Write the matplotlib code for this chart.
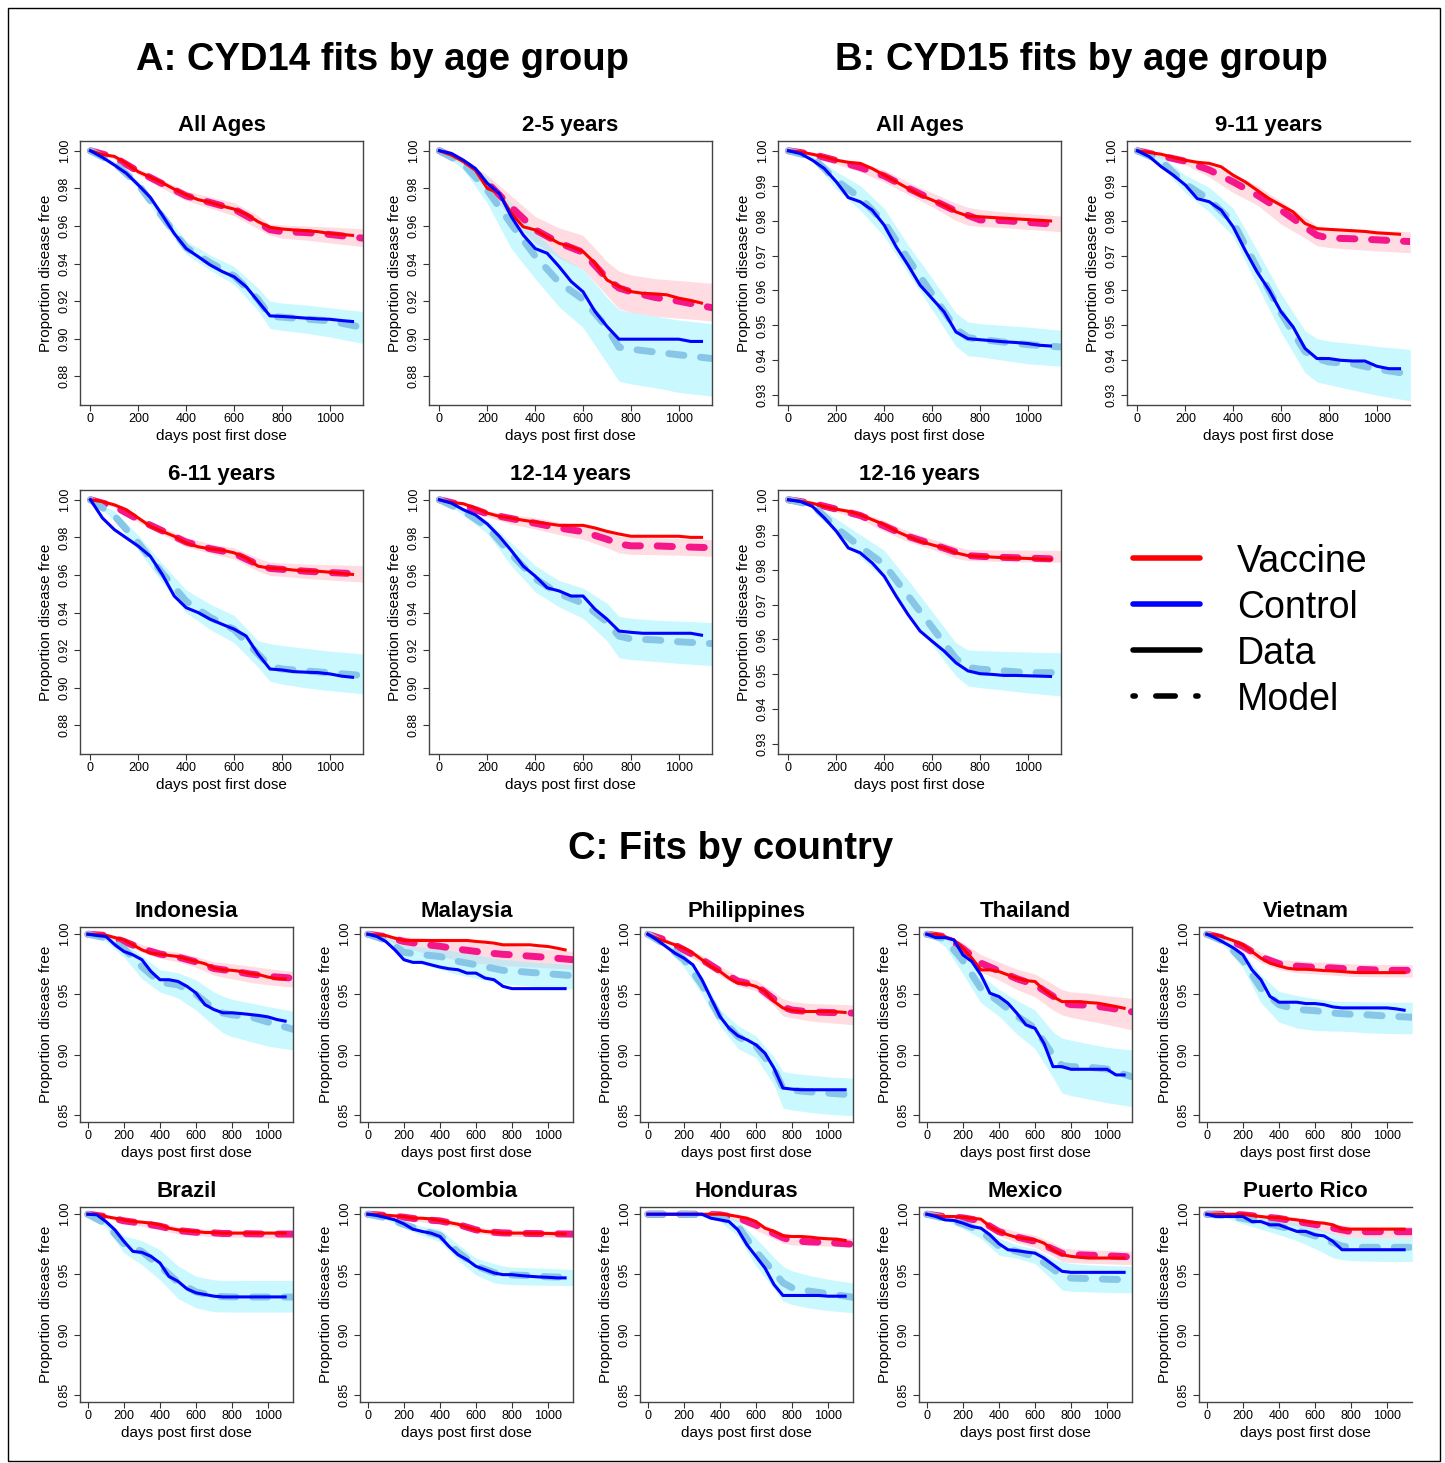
import matplotlib
matplotlib.use('Agg')
import matplotlib.pyplot as plt
from matplotlib.patches import Rectangle

plt.rcParams['font.family'] = ['Liberation Sans', 'DejaVu Sans']

# ---------------------------------------------------------------- data
DATA_DAYS = [0, 50, 100, 150, 200, 250, 300, 350, 400, 450, 500, 550, 600,
             650, 700, 750, 800, 850, 900, 950, 1000, 1050, 1095]
MODEL_DAYS = [0, 100, 200, 300, 400, 500, 600, 700, 750, 800, 900, 1000, 1140]

# Kaplan-Meier data, vaccine arm (at DATA_DAYS)
vaccine_data = {
    'A_all': [1.0, 0.998, 0.997, 0.9933, 0.9888, 0.986, 0.983, 0.9796, 0.9765, 0.974, 0.9726, 0.9706, 0.969, 0.9664, 0.9623, 0.9593, 0.9584, 0.9579, 0.9575, 0.957, 0.956, 0.9555, 0.955],
    'A_2_5': [1.0, 0.9977, 0.9942, 0.9897, 0.98, 0.9773, 0.9667, 0.9596, 0.9579, 0.9543, 0.9508, 0.949, 0.9464, 0.9402, 0.9313, 0.9278, 0.9251, 0.9242, 0.9239, 0.9234, 0.9216, 0.9204, 0.919],
    'A_6_11': [1.0, 0.999, 0.9973, 0.9947, 0.9903, 0.9859, 0.9832, 0.9806, 0.977, 0.975, 0.9739, 0.9732, 0.9718, 0.9691, 0.9647, 0.9636, 0.9633, 0.9626, 0.9622, 0.962, 0.9615, 0.9608, 0.9603],
    'A_12_14': [1.0, 0.9986, 0.9979, 0.9956, 0.9929, 0.9912, 0.9903, 0.9891, 0.9882, 0.9873, 0.9864, 0.9864, 0.9864, 0.985, 0.9832, 0.9818, 0.9806, 0.9806, 0.9806, 0.9806, 0.9806, 0.980, 0.980],
    'B_all': [1.0, 0.9997, 0.999, 0.9983, 0.9973, 0.9967, 0.9964, 0.9949, 0.993, 0.9911, 0.9892, 0.9873, 0.9859, 0.9844, 0.9825, 0.9813, 0.9811, 0.9809, 0.9807, 0.9805, 0.9803, 0.9801, 0.9799],
    'B_9_11': [1.0, 0.9995, 0.999, 0.9981, 0.9973, 0.9967, 0.9964, 0.9954, 0.993, 0.9911, 0.9887, 0.9863, 0.9844, 0.9825, 0.9792, 0.9777, 0.9775, 0.9773, 0.9771, 0.9769, 0.9765, 0.9763, 0.9761],
    'B_12_16': [1.0, 0.9996, 0.999, 0.9981, 0.9973, 0.9967, 0.9957, 0.9943, 0.9929, 0.991, 0.9895, 0.9881, 0.9871, 0.9862, 0.9848, 0.984, 0.9838, 0.9836, 0.9834, 0.9833, 0.9832, 0.983, 0.9829],
    'Indonesia': [1.0, 1.0, 0.9992, 0.9972, 0.9953, 0.9912, 0.987, 0.9843, 0.9835, 0.9824, 0.9815, 0.9793, 0.9774, 0.9755, 0.9719, 0.9705, 0.970, 0.9691, 0.9672, 0.9664, 0.9644, 0.9631, 0.9628],
    'Malaysia': [1.0, 0.9994, 0.9989, 0.9967, 0.9948, 0.9948, 0.9948, 0.9948, 0.9948, 0.9948, 0.9948, 0.9948, 0.994, 0.9934, 0.9926, 0.9912, 0.9912, 0.9912, 0.9912, 0.9904, 0.9898, 0.9884, 0.987],
    'Philippines': [1.0, 0.9967, 0.9939, 0.9912, 0.9884, 0.9843, 0.9788, 0.9732, 0.9691, 0.9635, 0.9594, 0.9588, 0.9566, 0.9525, 0.9442, 0.9387, 0.9367, 0.9358, 0.9358, 0.9358, 0.9358, 0.9355, 0.935],
    'Thailand': [1.0, 1.0, 0.998, 0.9953, 0.9884, 0.980, 0.9704, 0.9704, 0.969, 0.9662, 0.9634, 0.9615, 0.9607, 0.9537, 0.9482, 0.944, 0.944, 0.944, 0.9432, 0.9427, 0.9413, 0.9399, 0.9385],
    'Vietnam': [1.0, 0.9994, 0.9972, 0.9945, 0.9911, 0.9856, 0.9801, 0.976, 0.9737, 0.9717, 0.9709, 0.9709, 0.9704, 0.9698, 0.9695, 0.969, 0.9684, 0.9681, 0.9681, 0.9681, 0.9681, 0.9681, 0.9681],
    'Brazil': [1.0, 1.0, 0.9981, 0.9967, 0.9953, 0.994, 0.9934, 0.9926, 0.9912, 0.9884, 0.987, 0.9862, 0.9857, 0.9848, 0.9848, 0.9843, 0.9843, 0.9843, 0.9843, 0.9843, 0.9843, 0.9843, 0.9843],
    'Colombia': [1.0, 1.0, 0.9992, 0.9986, 0.9981, 0.9967, 0.9967, 0.9961, 0.9948, 0.9931, 0.9917, 0.9892, 0.987, 0.9857, 0.9851, 0.9843, 0.9843, 0.9843, 0.9841, 0.9841, 0.984, 0.9838, 0.9837],
    'Honduras': [1.0, 1.0, 1.0, 1.0, 1.0, 1.0, 1.0, 1.0, 1.0, 0.9994, 0.9981, 0.9967, 0.9939, 0.9884, 0.9857, 0.9821, 0.9815, 0.9815, 0.981, 0.9801, 0.9796, 0.9793, 0.9782],
    'Mexico': [1.0, 0.9989, 0.9981, 0.9981, 0.9975, 0.9967, 0.9959, 0.9898, 0.9857, 0.9829, 0.9807, 0.9796, 0.9788, 0.976, 0.9705, 0.9664, 0.965, 0.9642, 0.9636, 0.9636, 0.9636, 0.9636, 0.9636],
    'Puerto Rico': [1.0, 1.0, 1.0, 1.0, 1.0, 0.9989, 0.9981, 0.9972, 0.9972, 0.9961, 0.9953, 0.9939, 0.9931, 0.9926, 0.9912, 0.9876, 0.9876, 0.9876, 0.9876, 0.9876, 0.9876, 0.9876, 0.9876],
}

# Kaplan-Meier data, control arm
control_data = {
    'A_all': [1.0, 0.9965, 0.9924, 0.988, 0.9818, 0.9752, 0.9658, 0.956, 0.948, 0.9437, 0.9393, 0.9358, 0.933, 0.9278, 0.92, 0.9122, 0.9119, 0.9115, 0.911, 0.9106, 0.9104, 0.9097, 0.9092],
    'A_2_5': [1.0, 0.9986, 0.995, 0.9906, 0.9827, 0.9773, 0.965, 0.9552, 0.948, 0.9455, 0.9384, 0.9305, 0.925, 0.9145, 0.9066, 0.8998, 0.8998, 0.8998, 0.8998, 0.8998, 0.8998, 0.8986, 0.8986],
    'A_6_11': [1.0, 0.9903, 0.9841, 0.9797, 0.9753, 0.970, 0.9603, 0.9488, 0.9426, 0.940, 0.9365, 0.9338, 0.9312, 0.9276, 0.918, 0.910, 0.9095, 0.9086, 0.9083, 0.9081, 0.9074, 0.9062, 0.9056],
    'A_12_14': [1.0, 0.9982, 0.9947, 0.992, 0.9871, 0.9806, 0.973, 0.9647, 0.9594, 0.9532, 0.9515, 0.9488, 0.9488, 0.9418, 0.9365, 0.9302, 0.9295, 0.929, 0.929, 0.929, 0.929, 0.929, 0.928],
    'B_all': [1.0, 0.9992, 0.9973, 0.9949, 0.9911, 0.9866, 0.9854, 0.983, 0.9787, 0.9725, 0.9672, 0.9615, 0.9577, 0.9539, 0.9481, 0.9462, 0.9459, 0.9456, 0.9453, 0.9451, 0.9448, 0.9443, 0.9441],
    'B_9_11': [1.0, 0.9983, 0.9954, 0.993, 0.9902, 0.9863, 0.9854, 0.983, 0.9782, 0.9715, 0.9653, 0.9601, 0.9539, 0.9496, 0.9434, 0.9405, 0.9405, 0.940, 0.9398, 0.9398, 0.9383, 0.9376, 0.9376],
    'B_12_16': [1.0, 0.9995, 0.9981, 0.9948, 0.991, 0.9862, 0.9848, 0.9819, 0.9781, 0.9724, 0.9671, 0.9624, 0.9595, 0.9567, 0.9533, 0.951, 0.9502, 0.950, 0.9497, 0.9497, 0.9496, 0.9495, 0.9494],
    'Indonesia': [1.0, 0.9989, 0.9981, 0.9912, 0.9857, 0.9829, 0.9788, 0.9691, 0.9622, 0.9622, 0.9608, 0.9567, 0.9512, 0.9415, 0.9374, 0.9347, 0.9347, 0.9341, 0.9333, 0.9325, 0.9313, 0.9291, 0.9278],
    'Malaysia': [1.0, 0.9981, 0.9939, 0.987, 0.9788, 0.9766, 0.9766, 0.9746, 0.9727, 0.9713, 0.9705, 0.9677, 0.9677, 0.9636, 0.9622, 0.9567, 0.9548, 0.9548, 0.9548, 0.9548, 0.9548, 0.9548, 0.9548],
    'Philippines': [1.0, 0.9953, 0.9898, 0.9843, 0.9801, 0.9746, 0.9622, 0.9469, 0.9317, 0.922, 0.9156, 0.9123, 0.9081, 0.9012, 0.8888, 0.8722, 0.8713, 0.8708, 0.8708, 0.8708, 0.8708, 0.8708, 0.8708],
    'Thailand': [1.0, 0.9972, 0.9972, 0.9953, 0.9828, 0.9773, 0.9662, 0.951, 0.9482, 0.9427, 0.9343, 0.9247, 0.9219, 0.9094, 0.890, 0.890, 0.8878, 0.8878, 0.8878, 0.8878, 0.8878, 0.8831, 0.8831],
    'Vietnam': [1.0, 0.9967, 0.9926, 0.9884, 0.9829, 0.9705, 0.9622, 0.9484, 0.9435, 0.9435, 0.9435, 0.9424, 0.9424, 0.9415, 0.9396, 0.9388, 0.9388, 0.9388, 0.9388, 0.9388, 0.9388, 0.938, 0.9369],
    'Brazil': [1.0, 0.9995, 0.9939, 0.987, 0.9774, 0.9691, 0.9683, 0.965, 0.9595, 0.9484, 0.9443, 0.938, 0.9347, 0.9333, 0.9319, 0.9313, 0.9313, 0.9313, 0.9313, 0.9313, 0.9313, 0.9313, 0.9313],
    'Colombia': [1.0, 0.9989, 0.9972, 0.9953, 0.992, 0.9876, 0.9857, 0.9843, 0.9815, 0.9733, 0.9664, 0.9622, 0.9567, 0.954, 0.9512, 0.9498, 0.9498, 0.949, 0.9484, 0.9479, 0.9476, 0.9471, 0.9471],
    'Honduras': [1.0, 1.0, 1.0, 1.0, 1.0, 1.0, 1.0, 0.9967, 0.9953, 0.9939, 0.987, 0.9746, 0.965, 0.9553, 0.9416, 0.9325, 0.9325, 0.9325, 0.9325, 0.9325, 0.9319, 0.9319, 0.9319],
    'Mexico': [1.0, 0.9981, 0.9953, 0.9948, 0.9926, 0.9898, 0.9884, 0.9829, 0.9755, 0.9705, 0.9697, 0.9686, 0.9677, 0.9636, 0.9581, 0.9526, 0.9517, 0.9517, 0.9517, 0.9517, 0.9517, 0.9517, 0.9517],
    'Puerto Rico': [1.0, 0.9981, 0.9981, 0.9981, 0.9981, 0.9939, 0.9939, 0.9912, 0.9912, 0.9884, 0.9857, 0.9857, 0.9829, 0.982, 0.9774, 0.9705, 0.9705, 0.9705, 0.9705, 0.9705, 0.9705, 0.9705, 0.9705],
}

# model fits at MODEL_DAYS: vaccine arm (mean, lower, upper)
vaccine_model = {
    'A_all': [1.0, 0.9965, 0.989, 0.9825, 0.976, 0.9725, 0.969, 0.962, 0.958, 0.957, 0.9565, 0.9555, 0.9535],
    'A_2_5': [1.0, 0.994, 0.983, 0.970, 0.958, 0.951, 0.946, 0.932, 0.927, 0.925, 0.922, 0.920, 0.9165],
    'A_6_11': [1.0, 0.9965, 0.9895, 0.9835, 0.9775, 0.974, 0.9715, 0.9655, 0.9635, 0.963, 0.962, 0.9613, 0.9605],
    'A_12_14': [1.0, 0.997, 0.9925, 0.990, 0.9875, 0.985, 0.983, 0.979, 0.9765, 0.9755, 0.9755, 0.975, 0.9745],
    'B_all': [1.0, 0.999, 0.9972, 0.9952, 0.9928, 0.9893, 0.986, 0.9827, 0.9815, 0.9802, 0.980, 0.9795, 0.9788],
    'B_9_11': [1.0, 0.9985, 0.997, 0.9945, 0.9911, 0.9873, 0.983, 0.9782, 0.9758, 0.975, 0.9748, 0.9745, 0.974],
    'B_12_16': [1.0, 0.999, 0.9973, 0.9955, 0.9925, 0.9895, 0.9873, 0.985, 0.984, 0.9838, 0.9835, 0.9833, 0.983],
    'Indonesia': [1.0, 0.999, 0.994, 0.988, 0.9835, 0.981, 0.977, 0.9715, 0.9705, 0.9695, 0.967, 0.965, 0.9635],
    'Malaysia': [1.0, 0.998, 0.994, 0.9917, 0.990, 0.9876, 0.9857, 0.984, 0.9833, 0.9829, 0.9818, 0.9807, 0.9788],
    'Philippines': [1.0, 0.995, 0.987, 0.979, 0.9695, 0.961, 0.9575, 0.946, 0.9395, 0.937, 0.9355, 0.935, 0.9345],
    'Thailand': [1.0, 0.998, 0.988, 0.976, 0.9695, 0.963, 0.958, 0.9485, 0.9435, 0.9415, 0.941, 0.939, 0.9355],
    'Vietnam': [1.0, 0.9965, 0.990, 0.981, 0.9755, 0.9735, 0.9725, 0.972, 0.9715, 0.971, 0.9705, 0.970, 0.970],
    'Brazil': [1.0, 0.998, 0.9945, 0.9925, 0.990, 0.9865, 0.985, 0.9845, 0.984, 0.984, 0.9838, 0.9835, 0.9835],
    'Colombia': [1.0, 0.999, 0.9975, 0.9955, 0.9945, 0.9915, 0.987, 0.985, 0.9845, 0.9843, 0.984, 0.9838, 0.9835],
    'Honduras': [1.0, 1.0, 1.0, 1.0, 0.9995, 0.997, 0.991, 0.984, 0.9805, 0.978, 0.977, 0.9765, 0.975],
    'Mexico': [1.0, 0.998, 0.997, 0.9945, 0.9855, 0.981, 0.9775, 0.971, 0.9675, 0.9665, 0.966, 0.9655, 0.9645],
    'Puerto Rico': [1.0, 1.0, 0.9995, 0.998, 0.9965, 0.994, 0.9915, 0.9885, 0.987, 0.9855, 0.9855, 0.9855, 0.9855],
}
vaccine_lower = {
    'A_all': [1.0, 0.9955, 0.9875, 0.980, 0.9735, 0.9695, 0.9655, 0.9585, 0.955, 0.9535, 0.9525, 0.951, 0.949],
    'A_2_5': [1.0, 0.9925, 0.979, 0.964, 0.951, 0.943, 0.937, 0.923, 0.916, 0.914, 0.912, 0.911, 0.9095],
    'A_6_11': [1.0, 0.996, 0.988, 0.9815, 0.975, 0.9715, 0.9685, 0.962, 0.9598, 0.9593, 0.9582, 0.9573, 0.9562],
    'A_12_14': [1.0, 0.9965, 0.991, 0.987, 0.9845, 0.9815, 0.979, 0.9745, 0.9718, 0.971, 0.9708, 0.9705, 0.970],
    'B_all': [1.0, 0.9985, 0.9962, 0.994, 0.991, 0.9875, 0.984, 0.980, 0.9787, 0.9783, 0.978, 0.9775, 0.9768],
    'B_9_11': [1.0, 0.9978, 0.996, 0.9925, 0.988, 0.9845, 0.979, 0.975, 0.9728, 0.9723, 0.9718, 0.9713, 0.9708],
    'B_12_16': [1.0, 0.9985, 0.9965, 0.9945, 0.991, 0.988, 0.9858, 0.9832, 0.9826, 0.9825, 0.9823, 0.9822, 0.9821],
    'Indonesia': [1.0, 0.998, 0.9915, 0.985, 0.980, 0.977, 0.9725, 0.966, 0.9642, 0.963, 0.960, 0.958, 0.9562],
    'Malaysia': [1.0, 0.996, 0.989, 0.985, 0.982, 0.978, 0.976, 0.9745, 0.974, 0.9735, 0.973, 0.972, 0.9711],
    'Philippines': [1.0, 0.9935, 0.9845, 0.9755, 0.9655, 0.957, 0.953, 0.9405, 0.932, 0.9305, 0.928, 0.9265, 0.9248],
    'Thailand': [1.0, 0.9965, 0.983, 0.9685, 0.962, 0.954, 0.948, 0.937, 0.933, 0.931, 0.928, 0.925, 0.9205],
    'Vietnam': [1.0, 0.995, 0.986, 0.9765, 0.9705, 0.968, 0.967, 0.966, 0.9655, 0.965, 0.9648, 0.9645, 0.9644],
    'Brazil': [1.0, 0.997, 0.9925, 0.990, 0.987, 0.9835, 0.9822, 0.9815, 0.981, 0.981, 0.9806, 0.9803, 0.9801],
    'Colombia': [1.0, 0.9983, 0.996, 0.9935, 0.992, 0.989, 0.9845, 0.9822, 0.9817, 0.9815, 0.9812, 0.981, 0.9805],
    'Honduras': [1.0, 1.0, 0.9995, 0.999, 0.998, 0.994, 0.987, 0.9795, 0.976, 0.9745, 0.974, 0.9735, 0.9727],
    'Mexico': [1.0, 0.997, 0.995, 0.9915, 0.982, 0.9765, 0.9725, 0.9655, 0.9605, 0.9598, 0.9592, 0.9588, 0.9581],
    'Puerto Rico': [1.0, 0.9995, 0.998, 0.9955, 0.993, 0.990, 0.987, 0.9835, 0.9815, 0.981, 0.9805, 0.9803, 0.9802],
}
vaccine_upper = {
    'A_all': [1.0, 0.9975, 0.9905, 0.9845, 0.9785, 0.9755, 0.9725, 0.9655, 0.961, 0.9605, 0.960, 0.9595, 0.9585],
    'A_2_5': [1.0, 0.9955, 0.987, 0.976, 0.965, 0.959, 0.955, 0.941, 0.936, 0.934, 0.932, 0.931, 0.9295],
    'A_6_11': [1.0, 0.997, 0.991, 0.9855, 0.980, 0.9765, 0.9745, 0.969, 0.9668, 0.9665, 0.9658, 0.9655, 0.965],
    'A_12_14': [1.0, 0.9978, 0.994, 0.992, 0.9905, 0.988, 0.9865, 0.983, 0.9806, 0.980, 0.9798, 0.9795, 0.9788],
    'B_all': [1.0, 0.9995, 0.998, 0.9965, 0.9945, 0.991, 0.988, 0.985, 0.9838, 0.9832, 0.9825, 0.982, 0.9813],
    'B_9_11': [1.0, 0.9992, 0.998, 0.996, 0.9935, 0.990, 0.9855, 0.981, 0.9785, 0.978, 0.9776, 0.9772, 0.9768],
    'B_12_16': [1.0, 0.9994, 0.998, 0.9965, 0.994, 0.991, 0.9888, 0.9866, 0.9858, 0.9857, 0.9856, 0.9856, 0.9855],
    'Indonesia': [1.0, 0.9995, 0.9965, 0.9915, 0.987, 0.985, 0.9815, 0.977, 0.9765, 0.9755, 0.9735, 0.9715, 0.9691],
    'Malaysia': [1.0, 0.9995, 0.998, 0.997, 0.996, 0.9945, 0.993, 0.9915, 0.991, 0.9905, 0.989, 0.9875, 0.9857],
    'Philippines': [1.0, 0.9965, 0.9895, 0.9825, 0.9735, 0.965, 0.962, 0.952, 0.9465, 0.944, 0.9425, 0.942, 0.9413],
    'Thailand': [1.0, 0.9995, 0.993, 0.983, 0.977, 0.971, 0.967, 0.9585, 0.954, 0.952, 0.951, 0.949, 0.9468],
    'Vietnam': [1.0, 0.998, 0.9935, 0.985, 0.979, 0.978, 0.977, 0.9765, 0.976, 0.9755, 0.975, 0.9748, 0.9746],
    'Brazil': [1.0, 0.999, 0.9965, 0.995, 0.993, 0.9895, 0.988, 0.9873, 0.987, 0.9868, 0.9866, 0.9864, 0.9862],
    'Colombia': [1.0, 0.9995, 0.9988, 0.9972, 0.9965, 0.994, 0.9895, 0.9876, 0.9872, 0.987, 0.9866, 0.9864, 0.986],
    'Honduras': [1.0, 1.0, 1.0, 1.0, 1.0, 0.9985, 0.9945, 0.988, 0.9845, 0.9825, 0.9815, 0.981, 0.9801],
    'Mexico': [1.0, 0.999, 0.9985, 0.997, 0.9895, 0.9855, 0.9825, 0.9765, 0.972, 0.9712, 0.9705, 0.970, 0.9691],
    'Puerto Rico': [1.0, 1.0, 1.0, 0.9995, 0.999, 0.9975, 0.995, 0.9925, 0.991, 0.990, 0.9899, 0.9898, 0.9898],
}

# model fits at MODEL_DAYS: control arm (mean, lower, upper)
control_model = {
    'A_all': [1.0, 0.9935, 0.982, 0.965, 0.9485, 0.9405, 0.9335, 0.921, 0.912, 0.9115, 0.9105, 0.9095, 0.906],
    'A_2_5': [1.0, 0.993, 0.979, 0.961, 0.944, 0.930, 0.921, 0.906, 0.8955, 0.8945, 0.893, 0.8915, 0.8895],
    'A_6_11': [1.0, 0.9915, 0.977, 0.961, 0.946, 0.9375, 0.931, 0.918, 0.9115, 0.910, 0.909, 0.908, 0.9065],
    'A_12_14': [1.0, 0.994, 0.9855, 0.971, 0.958, 0.950, 0.945, 0.935, 0.9275, 0.926, 0.9255, 0.9245, 0.9235],
    'B_all': [1.0, 0.9982, 0.9915, 0.9865, 0.9795, 0.969, 0.959, 0.949, 0.9465, 0.946, 0.9452, 0.9445, 0.9438],
    'B_9_11': [1.0, 0.997, 0.9905, 0.986, 0.9795, 0.9665, 0.9535, 0.9425, 0.9405, 0.9395, 0.939, 0.9375, 0.936],
    'B_12_16': [1.0, 0.9985, 0.992, 0.9865, 0.9815, 0.9725, 0.9635, 0.9545, 0.952, 0.9515, 0.951, 0.9505, 0.9505],
    'Indonesia': [1.0, 0.997, 0.988, 0.973, 0.960, 0.958, 0.950, 0.938, 0.9345, 0.933, 0.9315, 0.927, 0.921],
    'Malaysia': [1.0, 0.995, 0.985, 0.983, 0.9815, 0.9774, 0.9746, 0.9715, 0.970, 0.9695, 0.9683, 0.9672, 0.9655],
    'Philippines': [1.0, 0.991, 0.979, 0.958, 0.931, 0.915, 0.907, 0.888, 0.872, 0.8705, 0.869, 0.868, 0.8665],
    'Thailand': [1.0, 0.996, 0.978, 0.955, 0.944, 0.932, 0.922, 0.8995, 0.891, 0.890, 0.8895, 0.888, 0.8815],
    'Vietnam': [1.0, 0.9935, 0.978, 0.955, 0.9415, 0.9375, 0.9365, 0.9345, 0.934, 0.9335, 0.933, 0.932, 0.931],
    'Brazil': [1.0, 0.992, 0.9755, 0.969, 0.957, 0.9435, 0.9355, 0.932, 0.9315, 0.9313, 0.9312, 0.9312, 0.9312],
    'Colombia': [1.0, 0.997, 0.9915, 0.9865, 0.9825, 0.9685, 0.957, 0.9515, 0.950, 0.9495, 0.949, 0.948, 0.9475],
    'Honduras': [1.0, 1.0, 1.0, 0.9995, 0.998, 0.990, 0.969, 0.952, 0.943, 0.939, 0.936, 0.934, 0.931],
    'Mexico': [1.0, 0.9965, 0.992, 0.986, 0.9735, 0.969, 0.965, 0.9545, 0.9485, 0.947, 0.9465, 0.946, 0.9455],
    'Puerto Rico': [1.0, 0.999, 0.9965, 0.9935, 0.990, 0.9865, 0.982, 0.9765, 0.9735, 0.9725, 0.9725, 0.9725, 0.9725],
}
control_lower = {
    'A_all': [1.0, 0.9925, 0.980, 0.962, 0.945, 0.9365, 0.929, 0.915, 0.9055, 0.9045, 0.903, 0.901, 0.8975],
    'A_2_5': [1.0, 0.990, 0.972, 0.948, 0.932, 0.917, 0.906, 0.887, 0.8775, 0.876, 0.874, 0.8715, 0.8695],
    'A_6_11': [1.0, 0.989, 0.973, 0.956, 0.940, 0.931, 0.924, 0.911, 0.9035, 0.902, 0.900, 0.8985, 0.8968],
    'A_12_14': [1.0, 0.992, 0.982, 0.965, 0.951, 0.943, 0.937, 0.925, 0.916, 0.915, 0.914, 0.913, 0.9118],
    'B_all': [1.0, 0.9975, 0.989, 0.983, 0.9755, 0.965, 0.9545, 0.944, 0.9413, 0.941, 0.940, 0.939, 0.9383],
    'B_9_11': [1.0, 0.9955, 0.988, 0.9825, 0.9755, 0.9615, 0.948, 0.9365, 0.9338, 0.933, 0.9315, 0.930, 0.9284],
    'B_12_16': [1.0, 0.998, 0.990, 0.9835, 0.9775, 0.968, 0.9585, 0.9495, 0.9467, 0.9462, 0.9455, 0.9447, 0.9438],
    'Indonesia': [1.0, 0.994, 0.981, 0.963, 0.952, 0.947, 0.937, 0.924, 0.918, 0.915, 0.911, 0.907, 0.9038],
    'Malaysia': [1.0, 0.9925, 0.9795, 0.975, 0.971, 0.9665, 0.9635, 0.960, 0.959, 0.958, 0.957, 0.956, 0.9545],
    'Philippines': [1.0, 0.9885, 0.973, 0.950, 0.924, 0.905, 0.8975, 0.875, 0.8556, 0.854, 0.852, 0.8505, 0.8492],
    'Thailand': [1.0, 0.990, 0.967, 0.943, 0.932, 0.917, 0.905, 0.881, 0.868, 0.866, 0.863, 0.860, 0.8568],
    'Vietnam': [1.0, 0.990, 0.972, 0.943, 0.927, 0.922, 0.920, 0.9195, 0.9195, 0.919, 0.918, 0.9175, 0.9173],
    'Brazil': [1.0, 0.989, 0.968, 0.958, 0.9455, 0.930, 0.9222, 0.919, 0.9188, 0.9187, 0.9187, 0.9187, 0.9187],
    'Colombia': [1.0, 0.9955, 0.9885, 0.9825, 0.977, 0.962, 0.9495, 0.943, 0.942, 0.9415, 0.9412, 0.941, 0.9407],
    'Honduras': [1.0, 1.0, 0.9995, 0.998, 0.994, 0.982, 0.957, 0.938, 0.9278, 0.925, 0.922, 0.920, 0.9181],
    'Mexico': [1.0, 0.995, 0.988, 0.980, 0.966, 0.9635, 0.959, 0.945, 0.937, 0.936, 0.9355, 0.935, 0.9347],
    'Puerto Rico': [1.0, 0.9975, 0.992, 0.9875, 0.983, 0.978, 0.9715, 0.964, 0.9622, 0.9615, 0.961, 0.9608, 0.9608],
}
control_upper = {
    'A_all': [1.0, 0.9945, 0.984, 0.968, 0.952, 0.9445, 0.9385, 0.927, 0.920, 0.919, 0.918, 0.9165, 0.9145],
    'A_2_5': [1.0, 0.995, 0.986, 0.972, 0.957, 0.944, 0.937, 0.922, 0.9155, 0.914, 0.912, 0.910, 0.908],
    'A_6_11': [1.0, 0.994, 0.981, 0.966, 0.952, 0.9445, 0.9385, 0.925, 0.9235, 0.9225, 0.921, 0.9195, 0.918],
    'A_12_14': [1.0, 0.996, 0.989, 0.977, 0.965, 0.957, 0.953, 0.945, 0.938, 0.937, 0.936, 0.9355, 0.9347],
    'B_all': [1.0, 0.9988, 0.994, 0.990, 0.9835, 0.973, 0.9635, 0.9535, 0.951, 0.9505, 0.950, 0.9495, 0.9486],
    'B_9_11': [1.0, 0.9985, 0.993, 0.9895, 0.9835, 0.9715, 0.959, 0.9485, 0.9462, 0.9455, 0.9448, 0.944, 0.9431],
    'B_12_16': [1.0, 0.9992, 0.9945, 0.990, 0.9855, 0.977, 0.968, 0.959, 0.957, 0.9568, 0.9566, 0.9564, 0.9562],
    'Indonesia': [1.0, 0.999, 0.994, 0.982, 0.9705, 0.968, 0.962, 0.952, 0.9485, 0.946, 0.943, 0.940, 0.936],
    'Malaysia': [1.0, 0.999, 0.991, 0.9895, 0.988, 0.9855, 0.983, 0.980, 0.979, 0.9785, 0.977, 0.976, 0.9746],
    'Philippines': [1.0, 0.994, 0.984, 0.965, 0.9375, 0.924, 0.9155, 0.898, 0.886, 0.8845, 0.883, 0.8815, 0.8804],
    'Thailand': [1.0, 0.999, 0.987, 0.966, 0.954, 0.945, 0.937, 0.919, 0.9136, 0.912, 0.909, 0.906, 0.9039],
    'Vietnam': [1.0, 0.997, 0.985, 0.966, 0.9525, 0.949, 0.9465, 0.9445, 0.944, 0.944, 0.9438, 0.9436, 0.9435],
    'Brazil': [1.0, 0.996, 0.982, 0.978, 0.9705, 0.957, 0.9485, 0.9455, 0.945, 0.945, 0.9449, 0.9449, 0.9449],
    'Colombia': [1.0, 0.9985, 0.9945, 0.990, 0.9875, 0.975, 0.9635, 0.959, 0.957, 0.956, 0.9555, 0.955, 0.954],
    'Honduras': [1.0, 1.0, 1.0, 1.0, 0.9995, 0.995, 0.980, 0.964, 0.9567, 0.953, 0.949, 0.946, 0.9429],
    'Mexico': [1.0, 0.998, 0.9955, 0.991, 0.980, 0.9745, 0.971, 0.963, 0.9605, 0.959, 0.958, 0.9573, 0.9567],
    'Puerto Rico': [1.0, 1.0, 0.9995, 0.998, 0.9955, 0.993, 0.989, 0.984, 0.9815, 0.981, 0.9805, 0.9802, 0.9802],
}

X_TICKS = [0, 200, 400, 600, 800, 1000]
YTICKS_A = [0.88, 0.90, 0.92, 0.94, 0.96, 0.98, 1.00]
YTICKS_B = [0.93, 0.94, 0.95, 0.96, 0.97, 0.98, 0.99, 1.00]
YTICKS_C = [0.85, 0.90, 0.95, 1.00]

# (key, title, left px, top px, y range, y ticks)
top_panels = [
    ('A_all', 'All Ages', 80, 141, (0.87, 1.0), YTICKS_A),
    ('A_2_5', '2-5 years', 429, 141, (0.87, 1.0), YTICKS_A),
    ('B_all', 'All Ages', 778, 141, (0.93, 1.0), YTICKS_B),
    ('B_9_11', '9-11 years', 1127, 141, (0.93, 1.0), YTICKS_B),
    ('A_6_11', '6-11 years', 80, 490, (0.87, 1.0), YTICKS_A),
    ('A_12_14', '12-14 years', 429, 490, (0.87, 1.0), YTICKS_A),
    ('B_12_16', '12-16 years', 778, 490, (0.93, 1.0), YTICKS_B),
]
countries = ['Indonesia', 'Malaysia', 'Philippines', 'Thailand', 'Vietnam',
             'Brazil', 'Colombia', 'Honduras', 'Mexico', 'Puerto Rico']

# ---------------------------------------------------------------- figure
W, H = 1445, 1463
fig = plt.figure(figsize=(W / 100, H / 100), dpi=100)

VAC_COL, CTL_COL = '#FF0000', '#0000FF'
VAC_MOD, CTL_MOD = '#F5168A', '#87C6E6'
VAC_BAND, CTL_BAND = '#FFC0CB', '#88F0FF'


def px_axes(left, top, width, height):
    return fig.add_axes([left / W, 1 - (top + height) / H, width / W, height / H])


def draw_panel(left, top, width, height, key, title, yrange, yticks):
    ax = px_axes(left, top, width, height)
    lo, hi = yrange
    pad = 0.04 * (hi - lo)
    ax.set_ylim(lo - pad, hi + pad)
    ax.set_xlim(-0.04 * 1095, 1.04 * 1095)

    ax.fill_between(MODEL_DAYS, vaccine_lower[key], vaccine_upper[key],
                    color=VAC_BAND, alpha=0.55, lw=0)
    ax.fill_between(MODEL_DAYS, control_lower[key], control_upper[key],
                    color=CTL_BAND, alpha=0.45, lw=0)
    for model, col in ((vaccine_model[key], VAC_MOD), (control_model[key], CTL_MOD)):
        ln, = ax.plot(MODEL_DAYS, model, color=col, lw=5, solid_capstyle='round')
        ln.set_dashes((2.2, 2.4))
        ln.set_dash_capstyle('round')
    ax.plot(DATA_DAYS, vaccine_data[key], color=VAC_COL, lw=2.2)
    ax.plot(DATA_DAYS, control_data[key], color=CTL_COL, lw=2.2)

    ax.set_xticks(X_TICKS)
    ax.set_yticks(yticks)
    ax.set_yticklabels(['%.2f' % v for v in yticks])
    ax.tick_params(axis='both', direction='out', length=4, width=0.8,
                   color='#333333', labelsize=9, pad=2)
    ax.tick_params(axis='y', labelrotation=90, pad=2.5)
    for lbl in ax.get_yticklabels():
        lbl.set_va('center')
    for sp in ax.spines.values():
        sp.set_color('#444444')
        sp.set_linewidth(1)
    if left + width > 1400:
        ax.spines['right'].set_visible(False)

    ax.text(0.5, 1 + 10 / height, title, transform=ax.transAxes, ha='center',
            va='baseline', fontsize=16, fontweight='bold')
    ax.text(-34 / width, 0.5, 'Proportion disease free', transform=ax.transAxes,
            rotation=90, ha='center', va='center', fontsize=11)
    ax.text(0.5, -31 / height, 'days post first dose', transform=ax.transAxes,
            ha='center', va='center', fontsize=11)
    return ax


for key, title, left, top, yrange, yticks in top_panels:
    draw_panel(left, top, 283, 264, key, title, yrange, yticks)

c_lefts = [80, 360, 640, 919, 1199]
c_tops = [927, 1207]
for i, name in enumerate(countries):
    draw_panel(c_lefts[i % 5], c_tops[i // 5], 213, 195, name, name,
               (0.85, 1.0), YTICKS_C)

# section titles
fig.text(382 / W, 1 - 70 / H, 'A: CYD14 fits by age group', ha='center',
         va='baseline', fontsize=27.5, fontweight='bold')
fig.text(1081 / W, 1 - 70 / H, 'B: CYD15 fits by age group', ha='center',
         va='baseline', fontsize=27.5, fontweight='bold')
fig.text(731 / W, 1 - 859 / H, 'C: Fits by country', ha='center',
         va='baseline', fontsize=27.5, fontweight='bold')

# legend
leg = px_axes(1100, 520, 320, 220)
leg.set_xlim(1100, 1420)
leg.set_ylim(740, 520)
leg.axis('off')
leg_labels = ['Vaccine', 'Control', 'Data', 'Model']
leg_colors = ['#FF0000', '#0000FF', 'black', 'black']
leg_y = [558, 604, 650, 696]
for lab, col, y in zip(leg_labels, leg_colors, leg_y):
    ln, = leg.plot([1133, 1200], [y, y], color=col, lw=4, solid_capstyle='round')
    if lab == 'Model':
        ln.set_dashes((0.4, 3.7, 3.5, 3.7))
        ln.set_dash_capstyle('round')
    leg.text(1237, y + 4, lab, ha='left', va='center', fontsize=27)

# outer frame
fig.patches.append(Rectangle((8 / W, 1 - 1461 / H), 1432 / W, 1453 / H,
                             transform=fig.transFigure, fill=False,
                             ec='black', lw=1))

fig.savefig('out.png', dpi=100)
